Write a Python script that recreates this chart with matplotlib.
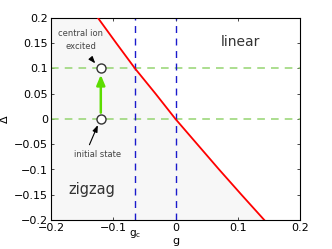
import numpy as np
import matplotlib.pyplot as plt

# boundary between zigzag and linear phases
g_boundary = [-0.1245, -0.095, -0.065, -0.032, 0.0, 0.035, 0.07, 0.106, 0.1426]
d_boundary = [0.2, 0.15, 0.1, 0.05, 0.0, -0.05, -0.1, -0.15, -0.2]

g_c = -0.065
g_ion = -0.12
delta_levels = [0.0, 0.1]

xticks = [-0.2, -0.1, 0, 0.1, 0.2]
xticklabels = ["\u22120.2", "\u22120.1", "0", "0.1", "0.2"]
yticks = [-0.2, -0.15, -0.1, -0.05, 0, 0.05, 0.1, 0.15, 0.2]
yticklabels = ["\u22120.2", "\u22120.15", "\u22120.1", "\u22120.05", "0", "0.05", "0.1", "0.15", "0.2"]

plt.rcParams["font.family"] = ["DejaVu Sans"]
fig = plt.figure(figsize=(3.32, 2.49), dpi=100)
ax = fig.add_axes([51 / 332, 1 - 220 / 249, 249 / 332, 202 / 249])

ax.fill_betweenx(d_boundary, -0.2, g_boundary, color="#f7f7f7", zorder=0)
ax.plot(g_boundary, d_boundary, color="red", lw=1.3, zorder=3)

for d in delta_levels:
    ax.axhline(d, color="#94d470", ls=(0, (5, 4)), lw=1.1, zorder=2)
for g in [g_c, 0]:
    ax.axvline(g, color="#1a1acc", ls=(0, (5, 4)), lw=1.0, zorder=2)

ax.annotate("", xy=(g_ion, delta_levels[1] - 0.007), xytext=(g_ion, delta_levels[0] + 0.007),
            arrowprops=dict(arrowstyle="-|>,head_width=0.25,head_length=0.6", color="#5cdd00", lw=1.8),
            zorder=4)
ax.plot([g_ion] * 2, delta_levels, "o", ms=6.5, mfc="white", mec="#333333", mew=1.0, zorder=5)

# labels with small black pointer arrows
ax.text(-0.152, 0.156, "central ion\nexcited", ha="center", va="center", fontsize=6,
        color="#444444", linespacing=1.6, zorder=1)
ax.annotate("", xy=(g_ion - 0.006, 0.106), xytext=(-0.135, 0.119),
            arrowprops=dict(arrowstyle="-|>,head_width=0.15,head_length=0.4", color="black", lw=0.8))
ax.text(-0.126, -0.07, "initial state", ha="center", va="center", fontsize=6, color="#444444")
ax.annotate("", xy=(g_ion - 0.003, -0.007), xytext=(-0.14, -0.056),
            arrowprops=dict(arrowstyle="-|>,head_width=0.15,head_length=0.4", color="black", lw=0.8))

ax.text(0.104, 0.152, "linear", fontsize=10, color="#333333", ha="center", va="center")
ax.text(-0.134, -0.14, "zigzag", fontsize=10.5, color="#333333", ha="center", va="center")

ax.set_xlim(-0.2, 0.2)
ax.set_ylim(-0.2, 0.2)
ax.set_xticks(xticks)
ax.set_xticklabels(xticklabels, fontsize=8)
ax.set_yticks(yticks)
ax.set_yticklabels(yticklabels, fontsize=8)
ax.tick_params(direction="in", top=True, right=True, length=2.5, width=0.5, pad=2)
for s in ax.spines.values():
    s.set_linewidth(0.8)
ax.text(g_c, -0.215, "g$_\\mathregular{c}$", fontsize=7.5, ha="center", va="top")
ax.set_xlabel("g", fontsize=8, labelpad=2)
ax.set_ylabel("\u0394", fontsize=8, labelpad=3)

fig.savefig("out.png", dpi=100)
